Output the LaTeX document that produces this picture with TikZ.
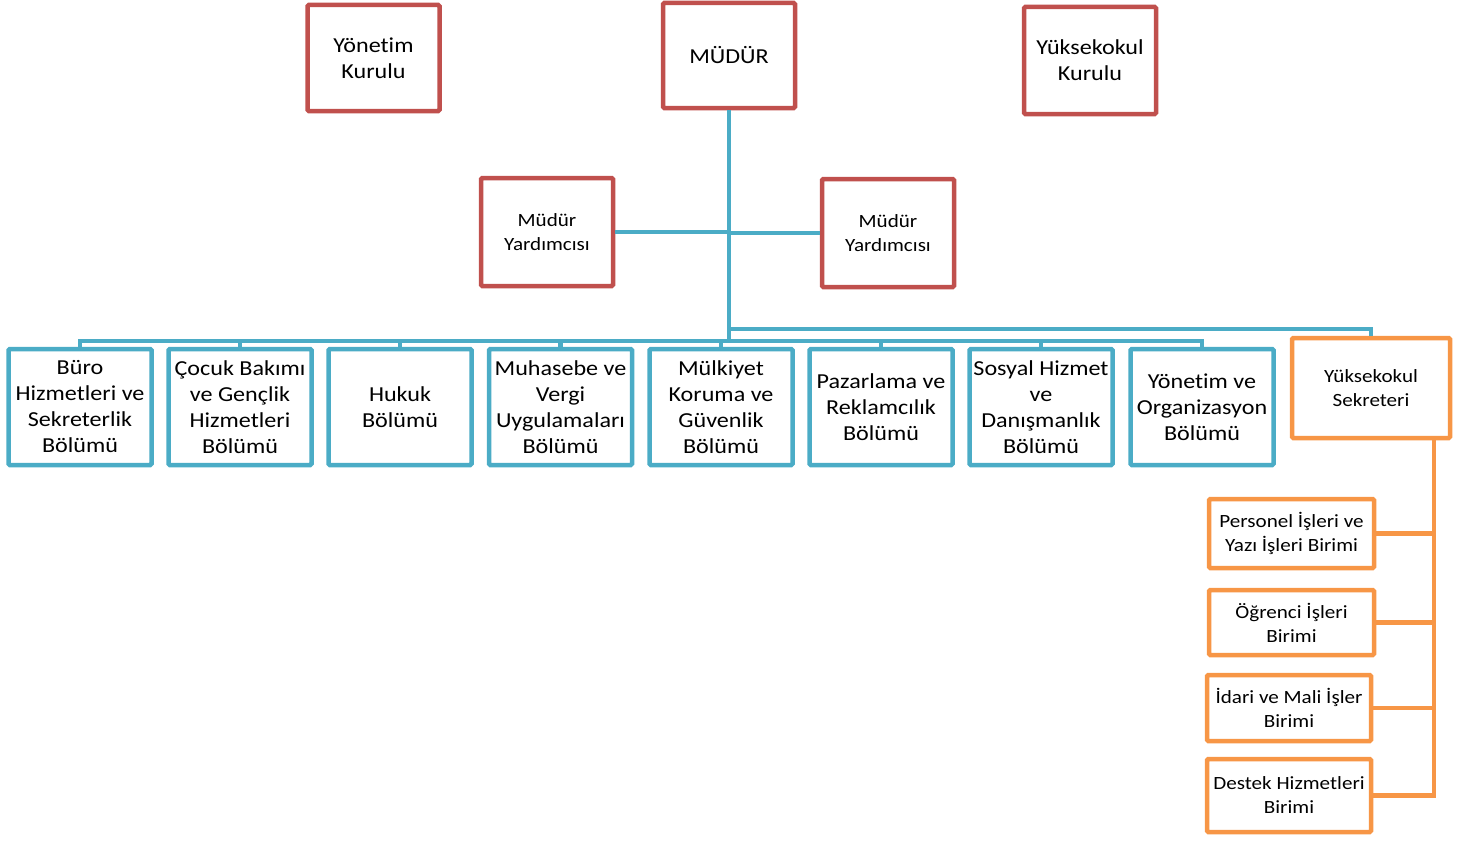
\documentclass[tikz,border=0pt]{standalone}
\usepackage{fontspec}
\setmainfont{Carlito}[FakeStretch=1.13, Ligatures=NoCommon]
\usetikzlibrary{positioning, calc}
\definecolor{orgred}{HTML}{C0504D}
\definecolor{orgblue}{HTML}{4BACC6}
\definecolor{orgorange}{HTML}{F79646}
\newlength{\pxu}
\setlength{\pxu}{0.75pt}

\begin{document}
\begin{tikzpicture}[
  x=0.75pt, y=-0.75pt,
  every node/.style={align=center, inner sep=1pt},
  bigtext/.style={font=\fontsize{16}{19.5}\selectfont},
  smalltext/.style={font=\fontsize{14}{18}\selectfont},
  redbox/.style={rectangle, rounded corners=1pt, draw=orgred, line width=4.5\pxu, fill=white, minimum width=132\pxu, minimum height=106\pxu},
  bluebox/.style={rectangle, rounded corners=1pt, draw=orgblue, line width=4.5\pxu, fill=white, minimum width=143\pxu, minimum height=116\pxu, bigtext},
  orangebox/.style={rectangle, rounded corners=1pt, draw=orgorange, line width=4.5\pxu, fill=white, minimum width=164\pxu, minimum height=68\pxu, smalltext},
  blueline/.style={draw=orgblue, line width=4.5\pxu},
  orangeline/.style={draw=orgorange, line width=4.5\pxu},
]
\useasboundingbox (0,0) rectangle (1469,842);

% top level
\node[redbox, bigtext] (yonetim) at (373.5,58) {Yönetim\\Kurulu};
\node[redbox, bigtext, minimum height=105\pxu] (mudur) at (729,55.5) {MÜDÜR};
\node[redbox, bigtext, minimum height=107\pxu] (kurul) at (1090,60.5) {Yüksekokul\\Kurulu};
\node[redbox, smalltext, minimum height=108\pxu] (yrd1) at (547,232) {Müdür\\Yardımcısı};
\node[redbox, smalltext, minimum height=108\pxu] (yrd2) at (888,233) {Müdür\\Yardımcısı};

% departments
\node[bluebox] (buro) at (80,407) {Büro\\Hizmetleri ve\\Sekreterlik\\Bölümü};
\node[bluebox] (cocuk) at (240,407) {Çocuk Bakımı\\ve Gençlik\\Hizmetleri\\Bölümü};
\node[bluebox] (hukuk) at (400,407) {Hukuk\\Bölümü};
\node[bluebox] (muhasebe) at (560.5,407) {Muhasebe ve\\Vergi\\Uygulamaları\\Bölümü};
\node[bluebox] (mulkiyet) at (721,407) {Mülkiyet\\Koruma ve\\Güvenlik\\Bölümü};
\node[bluebox] (pazarlama) at (881,407) {Pazarlama ve\\Reklamcılık\\Bölümü};
\node[bluebox] (sosyal) at (1041,407) {Sosyal Hizmet\\ve\\Danışmanlık\\Bölümü};
\node[bluebox] (orgbolum) at (1202,407) {Yönetim ve\\Organizasyon\\Bölümü};

% secretary and units
\node[orangebox, minimum width=158\pxu, minimum height=100\pxu] (sekreter) at (1371,388) {Yüksekokul\\Sekreteri};
\node[orangebox, minimum width=165\pxu, minimum height=69\pxu] (personel) at (1291.5,533.5) {Personel İşleri ve\\Yazı İşleri Birimi};
\node[orangebox, minimum width=165\pxu, minimum height=65\pxu] (ogrenci) at (1291.5,622.5) {Öğrenci İşleri\\Birimi};
\node[orangebox, minimum height=66\pxu] (idari) at (1289,708) {İdari ve Mali İşler\\Birimi};
\node[orangebox, minimum height=73\pxu] (destek) at (1289,795.5) {Destek Hizmetleri\\Birimi};

\coordinate (bus) at (729,341);
\coordinate (sekbus) at (729,329);
\coordinate (otrunk) at (1434,440);

% connectors
\draw[blueline] (mudur.south) -- (mudur.south |- bus);
\draw[blueline] (yrd1.east) -- (yrd1.east -| mudur.south);
\draw[blueline] (yrd2.west) -- (yrd2.west -| mudur.south);
\draw[blueline] (buro.north) |- (bus) -| (orgbolum.north);
\foreach \d in {cocuk,hukuk,muhasebe,mulkiyet,pazarlama,sosyal}
  \draw[blueline] (\d.north) -- (\d.north |- bus);
\draw[blueline] (sekbus) -| (sekreter.north);

\draw[orangeline] (otrunk) |- (destek.east);
\foreach \u in {personel,ogrenci,idari}
  \draw[orangeline] (\u.east) -- (\u.east -| otrunk);

\end{tikzpicture}
\end{document}
